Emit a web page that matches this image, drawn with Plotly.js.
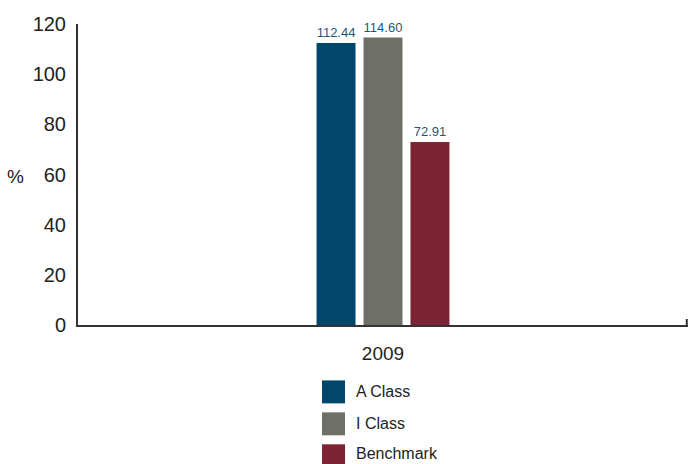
<!DOCTYPE html>
<html>
<head>
<meta charset="utf-8">
<script src="https://cdn.plot.ly/plotly-3.0.1.min.js"></script>
<style>html,body{margin:0;padding:0;background:#fff;}#chart{width:689px;height:464px;}</style>
</head>
<body>
<div id="chart"></div>
<script>
const categories = ["2009"];
const seriesNames = ["A Class", "I Class", "Benchmark"];
const aClass = [112.44];
const iClass = [114.60];
const benchmark = [72.91];
const colors = ["#00476b", "#6e6f68", "#7d2333"];
const yTicks = [0, 20, 40, 60, 80, 100, 120];

const FONT = "'Liberation Sans', Arial, sans-serif";
const values = [aClass, iClass, benchmark];

const traces = values.map((v, i) => ({
  type: "bar",
  name: seriesNames[i],
  x: categories,
  y: v,
  marker: {color: colors[i]},
  text: v.map(d => d.toFixed(2)),
  textposition: "outside",
  textfont: {family: FONT, size: 13, color: "#1d5878"},
  cliponaxis: false,
  showlegend: false,
  hoverinfo: "none"
}));

// custom legend with large swatches (paper coords)
const shapes = [];
const annotations = [];
const plotW = 610, plotH = 301.5, x0px = 78, zeroPx = 325.5;
const px2x = p => (p - x0px) / plotW;
const px2y = p => (zeroPx - p) / plotH;
seriesNames.forEach((n, i) => {
  const topPx = 381 + i * 32;
  const botPx = Math.min(topPx + 23, 466);
  shapes.push({type: "rect", xref: "paper", yref: "paper", x0: px2x(322), x1: px2x(345),
    y0: px2y(botPx), y1: px2y(topPx), fillcolor: colors[i], line: {width: 0}});
  const cy = i === 2 ? 454 : topPx + 11;
  annotations.push({xref: "paper", yref: "paper", x: px2x(354), y: px2y(cy),
    xanchor: "left", yanchor: "middle", text: n, showarrow: false,
    font: {family: FONT, size: 16, color: "#222"}});
});
// small end tick on x axis
shapes.push({type: "line", xref: "paper", yref: "paper", x0: 0.998, x1: 0.998, y0: 0, y1: 0.02,
  line: {color: "#333", width: 2}});
annotations.push({xref: "paper", yref: "paper", x: px2x(26), y: px2y(177), xanchor: "right", yanchor: "middle",
  text: "%", showarrow: false, font: {family: FONT, size: 19, color: "#222"}});

const layout = {
  width: 689, height: 464,
  margin: {l: 78, r: 1, t: 24, b: 138.5},
  paper_bgcolor: "#fff", plot_bgcolor: "#fff",
  font: {family: FONT, color: "#222"},
  barmode: "group",
  bargap: 0.769,
  bargroupgap: 0.17,
  showlegend: false,
  xaxis: {
    type: "category",
    showline: true, linecolor: "#333", linewidth: 2,
    ticks: "", showgrid: false, zeroline: false,
    tickfont: {family: FONT, size: 19, color: "#222"},
    ticklabelstandoff: 10
  },
  yaxis: {
    range: [0, 120], tickvals: yTicks, ticktext: yTicks.map(String),
    showline: true, linecolor: "#333", linewidth: 2,
    ticks: "", showgrid: false, zeroline: false,
    tickfont: {family: FONT, size: 20, color: "#222"},
    ticklabelstandoff: 6
  },
  shapes: shapes,
  annotations: annotations
};

Plotly.newPlot("chart", traces, layout, {displayModeBar: false, staticPlot: true});
</script>
</body>
</html>
